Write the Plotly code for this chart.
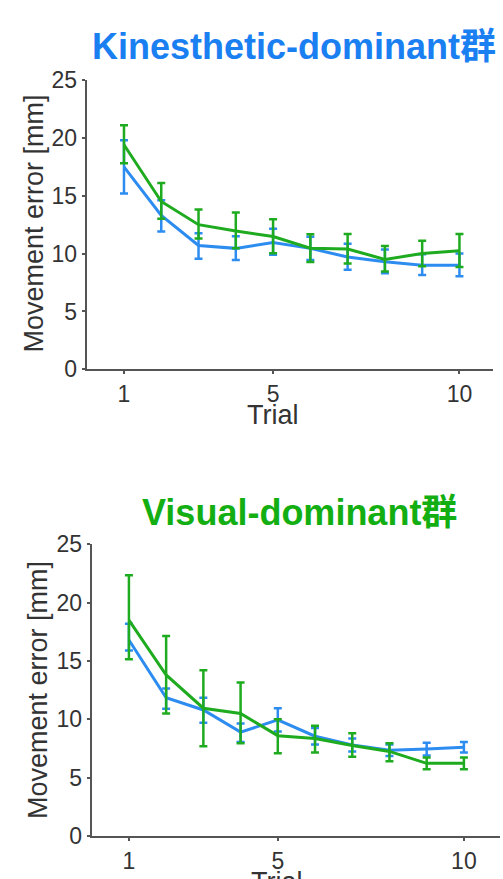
import plotly.graph_objects as go

trials = [1, 2, 3, 4, 5, 6, 7, 8, 9, 10]
x_ticks = [1, 5, 10]
y_ticks = [0, 5, 10, 15, 20, 25]

# Kinesthetic-dominant group (top panel)
kin_blue = [17.5, 13.3, 10.7, 10.45, 10.95, 10.45, 9.7, 9.3, 9.0, 9.0]
kin_blue_up = [2.3, 1.3, 1.05, 1.05, 1.2, 1.0, 1.15, 1.05, 0.95, 1.0]
kin_blue_dn = [2.3, 1.4, 1.15, 1.0, 1.05, 1.0, 1.1, 1.0, 0.85, 0.95]
kin_green = [19.4, 14.5, 12.5, 11.95, 11.47, 10.47, 10.4, 9.5, 10.0, 10.25]
kin_green_up = [1.7, 1.6, 1.3, 1.6, 1.5, 1.2, 1.3, 1.15, 1.1, 1.45]
kin_green_dn = [1.6, 1.5, 1.2, 1.5, 1.45, 1.2, 1.25, 1.05, 1.1, 1.4]

# Visual-dominant group (bottom panel)
vis_blue = [16.8, 11.85, 10.8, 8.9, 9.95, 8.55, 7.8, 7.35, 7.45, 7.6]
vis_blue_up = [1.4, 0.8, 1.05, 0.75, 1.0, 0.7, 0.55, 0.5, 0.55, 0.45]
vis_blue_dn = [0.9, 0.95, 1.1, 0.85, 1.0, 0.7, 0.55, 0.5, 0.55, 0.45]
vis_green = [18.5, 13.8, 10.95, 10.5, 8.6, 8.35, 7.75, 7.25, 6.23, 6.23]
vis_green_up = [3.85, 3.35, 3.25, 2.65, 1.4, 1.1, 1.05, 0.7, 0.5, 0.5]
vis_green_dn = [3.35, 3.3, 3.25, 2.55, 1.5, 1.2, 0.95, 0.85, 0.5, 0.5]

BLUE = "#2d8cf0"
GREEN = "#1fab1f"
TITLE_BLUE = "#1a80f2"
TITLE_GREEN = "#12ae12"
TXT = "#333333"
AX = "#555555"
FONT = "Liberation Sans, Arial, Noto Sans CJK JP, sans-serif"


def series(x, y, up, dn, color, xa, ya):
    return go.Scatter(
        x=x, y=y, mode="lines", xaxis=xa, yaxis=ya,
        line=dict(color=color, width=3),
        error_y=dict(type="data", symmetric=False, array=up, arrayminus=dn,
                     color=color, thickness=2.5, width=4),
        showlegend=False, hoverinfo="skip",
    )


fig = go.Figure()
fig.add_trace(series(trials, kin_blue, kin_blue_up, kin_blue_dn, BLUE, "x", "y"))
fig.add_trace(series(trials, kin_green, kin_green_up, kin_green_dn, GREEN, "x", "y"))
fig.add_trace(series(trials, vis_blue, vis_blue_up, vis_blue_dn, BLUE, "x2", "y2"))
fig.add_trace(series(trials, vis_green, vis_green_up, vis_green_dn, GREEN, "x2", "y2"))

W, H = 503, 879

xcommon = dict(tickmode="array", tickvals=x_ticks, ticktext=[str(v) for v in x_ticks],
               showgrid=False, zeroline=False, showline=True, linecolor=AX, linewidth=2,
               ticks="outside", ticklen=3, tickwidth=1.5, tickcolor=AX, automargin=False,
               tickfont=dict(size=23, color=TXT, family=FONT))
ycommon = dict(tickmode="array", tickvals=y_ticks, ticktext=[str(v) for v in y_ticks],
               range=[0, 25], showgrid=False, zeroline=False, showline=True, automargin=False,
               linecolor=AX, linewidth=2, ticks="outside", ticklen=3, tickwidth=1.5,
               tickcolor=AX, tickfont=dict(size=23, color=TXT, family=FONT))

fig.update_layout(
    width=W, height=H, autosize=False,
    margin=dict(l=0, r=0, t=0, b=0),
    paper_bgcolor="white", plot_bgcolor="white",
    font=dict(family=FONT, color=TXT),
    xaxis=dict(domain=[86.7 / W, 493 / W], range=[0, 10.9], anchor="y", **xcommon),
    yaxis=dict(domain=[1 - 369.3 / H, 1 - 80 / H], anchor="x", **ycommon),
    xaxis2=dict(domain=[91.7 / W, 500 / W], range=[0, 10.97], anchor="y2", **xcommon),
    yaxis2=dict(domain=[1 - 836 / H, 1 - 544.3 / H], anchor="x2", **ycommon),
    annotations=[
        dict(text="<b>Kinesthetic-dominant群</b>", x=294 / W, y=1 - 47 / H, xref="paper", yref="paper",
             showarrow=False, font=dict(size=36, color=TITLE_BLUE, family=FONT),
             xanchor="center", yanchor="middle"),
        dict(text="<b>Visual-dominant群</b>", x=299 / W, y=1 - 512 / H, xref="paper", yref="paper",
             showarrow=False, font=dict(size=36, color=TITLE_GREEN, family=FONT),
             xanchor="center", yanchor="middle"),
        dict(text="Movement error [mm]", x=33.5 / W, y=1 - 224 / H, xref="paper", yref="paper",
             showarrow=False, textangle=-90, font=dict(size=27, color=TXT, family=FONT),
             xanchor="center", yanchor="middle"),
        dict(text="Movement error [mm]", x=38 / W, y=1 - 690 / H, xref="paper", yref="paper",
             showarrow=False, textangle=-90, font=dict(size=27, color=TXT, family=FONT),
             xanchor="center", yanchor="middle"),
        dict(text="Trial", x=273 / W, y=1 - 415 / H, xref="paper", yref="paper",
             showarrow=False, font=dict(size=27, color=TXT, family=FONT),
             xanchor="center", yanchor="middle"),
        dict(text="Trial", x=277 / W, y=1 - 882 / H, xref="paper", yref="paper",
             showarrow=False, font=dict(size=27, color=TXT, family=FONT),
             xanchor="center", yanchor="middle"),
    ],
)

fig.write_html(
    "out.html",
    config={"displayModeBar": False},
    post_script="document.body.style.margin='0';document.body.style.overflow='hidden';",
)
